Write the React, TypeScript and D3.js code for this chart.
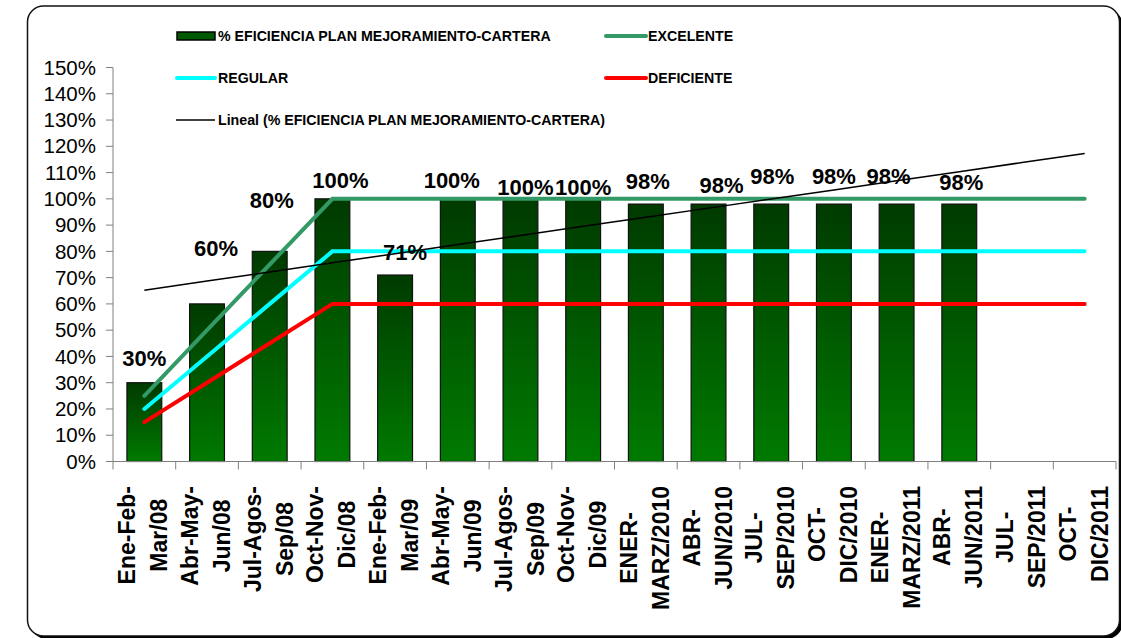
import { line, range, scaleBand, scaleLinear } from 'd3'

const categories = [
  'Ene-Feb-\nMar/08',
  'Abr-May-\nJun/08',
  'Jul-Agos-\nSep/08',
  'Oct-Nov-\nDic/08',
  'Ene-Feb-\nMar/09',
  'Abr-May-\nJun/09',
  'Jul-Agos-\nSep/09',
  'Oct-Nov-\nDic/09',
  'ENER-\nMARZ/2010',
  'ABR-\nJUN/2010',
  'JUL-\nSEP/2010',
  'OCT-\nDIC/2010',
  'ENER-\nMARZ/2011',
  'ABR-\nJUN/2011',
  'JUL-\nSEP/2011',
  'OCT-\nDIC/2011',
]

const eficiencia: (number | null)[] = [
  0.3, 0.6, 0.8, 1.0, 0.71, 1.0, 1.0, 1.0, 0.98, 0.98, 0.98, 0.98, 0.98, 0.98, null, null,
]
const excelente = [0.25, 0.5, 0.75, 1, 1, 1, 1, 1, 1, 1, 1, 1, 1, 1, 1, 1]
const regular = [0.2, 0.4, 0.6, 0.8, 0.8, 0.8, 0.8, 0.8, 0.8, 0.8, 0.8, 0.8, 0.8, 0.8, 0.8, 0.8]
const deficiente = [0.15, 0.3, 0.45, 0.6, 0.6, 0.6, 0.6, 0.6, 0.6, 0.6, 0.6, 0.6, 0.6, 0.6, 0.6, 0.6]
const yTickValues = [0, 0.1, 0.2, 0.3, 0.4, 0.5, 0.6, 0.7, 0.8, 0.9, 1.0, 1.1, 1.2, 1.3, 1.4, 1.5]

const serieName = '% EFICIENCIA PLAN MEJORAMIENTO-CARTERA'

// hand placed data labels (px nudges from the bar top, like the original sheet)
const labelNudges: [number, number][] = [
  [0, -24], [9, -56], [2, -51], [8, -19], [10, -23], [-6, -19], [5, -12],
  [0, -12], [2, -23], [13, -19], [1, -28], [0, -28], [-8, -28], [2, -22],
]

const width = 1121
const height = 638
const plot = { left: 113, right: 1116, top: 67.5, bottom: 461.5 }
const font = '"Liberation Sans", Arial, Helvetica, sans-serif'

const xScale = scaleBand<number>()
  .domain(range(categories.length))
  .range([plot.left, plot.right])
  .paddingInner(0.8 / 1.8)
  .paddingOuter(0.4 / 1.8)

const yScale = scaleLinear().domain([0, 1.5]).range([plot.bottom, plot.top])

const cx = (i: number) => (xScale(i) ?? 0) + xScale.bandwidth() / 2

// linear trend of the bars (least squares over the filled periods)
function trendPoints() {
  const pts = eficiencia
    .map((v, i) => ({ x: i + 1, y: v }))
    .filter((p) => p.y !== null) as { x: number; y: number }[]
  const n = pts.length
  const mx = pts.reduce((s, p) => s + p.x, 0) / n
  const my = pts.reduce((s, p) => s + p.y, 0) / n
  const sxy = pts.reduce((s, p) => s + (p.x - mx) * (p.y - my), 0)
  const sxx = pts.reduce((s, p) => s + (p.x - mx) ** 2, 0)
  const slope = sxy / sxx
  const icpt = my - slope * mx
  return categories.map((_, i) => ({ i, v: icpt + slope * (i + 1) }))
}

let measureCtx: CanvasRenderingContext2D | null = null
function textWidth(text: string, css: string) {
  if (!measureCtx) measureCtx = document.createElement('canvas').getContext('2d')
  if (!measureCtx) return text.length * 12
  measureCtx.font = css
  return measureCtx.measureText(text).width
}

export default function App() {
  const seriesLine = line<number>()
    .x((_, i) => cx(i))
    .y((d) => yScale(d))

  const trendLine = line<{ i: number; v: number }>()
    .x((d) => cx(d.i))
    .y((d) => yScale(d.v))

  const boundaries = range(categories.length + 1).map((i) =>
    i < categories.length ? xScale(i)! - (xScale.step() - xScale.bandwidth()) / 2 : plot.right,
  )

  const labelFont = `bold 23px ${font}`

  return (
    <svg
      width={width}
      height={height}
      style={{ position: 'absolute', left: 0, top: 0, fontFamily: font }}
    >
      <defs>
        <linearGradient id="barGrad" x1="0" y1="0" x2="0" y2="1">
          <stop offset="0%" stopColor="#003a00" />
          <stop offset="100%" stopColor="#007a00" />
        </linearGradient>
      </defs>

      <rect x={30.5} y={9} width={1092} height={630} rx={16} fill="#000" />
      <rect x={27.5} y={6} width={1092} height={630} rx={16} fill="#fff" stroke="#111" strokeWidth={1.5} />

      {/* legend */}
      <g fontSize={14.2} fontWeight="bold" fill="#000">
        <rect x={177} y={32} width={38} height={8} fill="#005800" stroke="#000" strokeWidth={1.5} />
        <text x={218} y={36} dy="0.35em">{serieName}</text>
        <line x1={606} x2={646} y1={36} y2={36} stroke="#339966" strokeWidth={4} strokeLinecap="round" />
        <text x={648} y={36} dy="0.35em">EXCELENTE</text>
        <line x1={177} x2={215} y1={78} y2={78} stroke="#00ffff" strokeWidth={4} strokeLinecap="round" />
        <text x={218} y={78} dy="0.35em">REGULAR</text>
        <line x1={606} x2={646} y1={78} y2={78} stroke="#ff0000" strokeWidth={4} strokeLinecap="round" />
        <text x={648} y={78} dy="0.35em">DEFICIENTE</text>
        <line x1={176} x2={215} y1={120} y2={120} stroke="#000" strokeWidth={1.5} />
        <text x={218} y={120} dy="0.35em">Lineal ({serieName})</text>
      </g>

      {/* y axis */}
      <line x1={plot.left} x2={plot.left} y1={plot.top} y2={plot.bottom} stroke="#808080" />
      {yTickValues.map((t) => (
        <g key={`y-${t}`}>
          <line x1={plot.left - 7} x2={plot.left} y1={yScale(t)} y2={yScale(t)} stroke="#808080" />
          <text x={96} y={yScale(t)} dy="0.35em" textAnchor="end" fontSize={20.5}>
            {`${Math.round(t * 100)}%`}
          </text>
        </g>
      ))}

      {/* bars */}
      {eficiencia.map((v, i) =>
        v === null ? null : (
          <rect
            key={`bar-${i}`}
            x={xScale(i)}
            y={yScale(v)}
            width={xScale.bandwidth()}
            height={yScale(0) - yScale(v)}
            fill="url(#barGrad)"
            stroke="#111"
            strokeWidth={1.2}
          />
        ),
      )}

      {/* x axis */}
      <line x1={plot.left} x2={plot.right} y1={plot.bottom} y2={plot.bottom} stroke="#808080" />
      {boundaries.map((b, i) => (
        <line key={`xt-${i}`} x1={b} x2={b} y1={plot.bottom} y2={plot.bottom + 8} stroke="#808080" />
      ))}

      <path d={seriesLine(excelente) ?? ''} fill="none" stroke="#339966" strokeWidth={4} strokeLinecap="round" />
      <path d={seriesLine(regular) ?? ''} fill="none" stroke="#00ffff" strokeWidth={4} strokeLinecap="round" />
      <path d={seriesLine(deficiente) ?? ''} fill="none" stroke="#ff0000" strokeWidth={4} strokeLinecap="round" />
      <path d={trendLine(trendPoints()) ?? ''} fill="none" stroke="#000" strokeWidth={1.5} />

      {/* data labels */}
      {eficiencia.map((v, i) => {
        if (v === null) return null
        const [dx, dy] = labelNudges[i] ?? [0, -20]
        return (
          <text
            key={`lbl-${i}`}
            x={cx(i) + dx}
            y={yScale(v) + dy}
            dy="0.35em"
            textAnchor="middle"
            fontSize={22}
            fontWeight="bold"
          >
            {`${Math.round(v * 100)}%`}
          </text>
        )
      })}

      {/* category labels, rotated */}
      {categories.map((c, i) => {
        const lines = c.split('\n')
        const longest = Math.max(...lines.map((l) => textWidth(l, labelFont)))
        const midY = 486 + longest / 2
        return (
          <g key={`cat-${i}`} fontSize={23} fontWeight="bold">
            {lines.map((l, k) => (
              <text
                key={k}
                transform={`translate(${cx(i) - 1 + (k - (lines.length - 1) / 2) * 32}, ${midY}) rotate(-90)`}
                dy="0.35em"
                textAnchor="middle"
              >
                {l}
              </text>
            ))}
          </g>
        )
      })}
    </svg>
  )
}
